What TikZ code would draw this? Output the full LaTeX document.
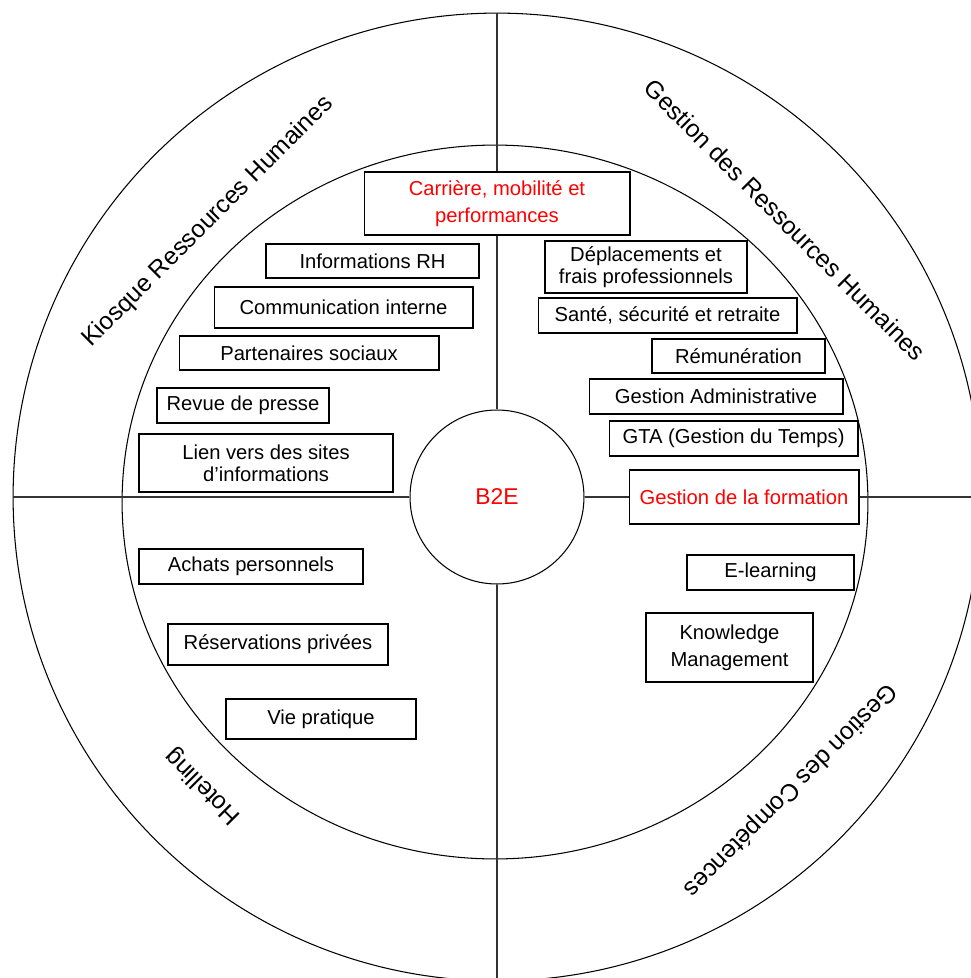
\documentclass[tikz,border=0pt]{standalone}
\usepackage{fontspec}
\setmainfont{Liberation Sans}

\begin{document}
\begin{tikzpicture}[x=0.02cm,y=-0.02cm]
    \tikzstyle{box}=[draw,line width=0.6pt,inner sep=0pt,align=center,font=\fontsize{11.5}{12.5}\selectfont]
    \tikzstyle{redbox}=[box,text=red]
    \tikzstyle{sector}=[font=\fontsize{14}{16}\selectfont]
    \tikzstyle{axis}=[line width=0.9pt,black!80]
    \useasboundingbox (0,0) rectangle (971,978);
    \clip (0,0) rectangle (971,978);
    \draw[line width=0.6pt] (497,497) circle [radius=9.68cm];
    \draw[line width=0.6pt] (495,502) ellipse [x radius=7.46cm,y radius=7.14cm];
    \node[circle,draw,line width=0.6pt,minimum size=3.48cm,inner sep=0pt,text=red,font=\fontsize{13}{15}\selectfont] (b2e) at (497,497) {B2E};
    \node[sector,rotate=45] (kiosque) at (208,222) {Kiosque Ressources Humaines};
    \node[sector,rotate=-45] (grh) at (785,220) {Gestion des Ressources Humaines};
    \node[sector,rotate=135] (hotelling) at (203,786) {Hotelling};
    \node[sector,rotate=-135] (competences) at (790,790) {Gestion des Compétences};
    \node[redbox,minimum width=5.32cm,minimum height=1.26cm] (carriere) at (497,203.5) {Carrière, mobilité et\\[2.5pt]performances};
    \node[box,minimum width=4.26cm,minimum height=0.68cm] (infos) at (372.5,261) {Informations RH};
    \node[box,minimum width=5.18cm,minimum height=0.82cm] (comm) at (343.5,307.5) {Communication interne};
    \node[box,minimum width=5.2cm,minimum height=0.68cm] (partenaires) at (309,353) {Partenaires sociaux};
    \node[box,minimum width=3.44cm,minimum height=0.7cm] (revue) at (243,405.5) {Revue de presse};
    \node[box,minimum width=5.08cm,minimum height=1.16cm] (liens) at (266,463) {Lien vers des sites\\d’informations};
    \node[box,minimum width=4.04cm,minimum height=1.04cm] (deplacements) at (646,267) {Déplacements et\\frais professionnels};
    \node[box,minimum width=5.18cm,minimum height=0.7cm] (sante) at (667.5,315.5) {Santé, sécurité et retraite};
    \node[box,minimum width=3.46cm,minimum height=0.68cm] (remuneration) at (738.5,356) {Rémunération};
    \node[box,minimum width=5.08cm,minimum height=0.7cm] (gestadmin) at (716,396.5) {Gestion Administrative};
    \node[box,minimum width=4.98cm,minimum height=0.7cm] (gta) at (733.5,438.5) {GTA (Gestion du Temps)};
    \node[redbox,minimum width=4.6cm,minimum height=1.08cm] (formation) at (744,497) {Gestion de la formation};
    \node[box,minimum width=3.34cm,minimum height=0.7cm] (elearning) at (770.5,572.5) {E-learning};
    \node[box,minimum width=3.34cm,minimum height=1.38cm] (knowledge) at (729.5,647.5) {Knowledge\\[3pt]Management};
    \node[box,minimum width=4.48cm,minimum height=0.7cm] (achats) at (251,566.5) {Achats personnels};
    \node[box,minimum width=4.4cm,minimum height=0.82cm] (reservations) at (278,644.5) {Réservations privées};
    \node[box,minimum width=3.8cm,minimum height=0.8cm] (viepratique) at (321,719) {Vie pratique};
    \coordinate (ntop) at (497,13);
    \coordinate (sbot) at (497,990);
    \coordinate (wleft) at (13,497);
    \coordinate (eright) at (990,497);
    \draw[axis] (ntop) -- (carriere.north);
    \draw[axis] (carriere.south) -- (b2e.north);
    \draw[axis] (b2e.south) -- (sbot);
    \draw[axis] (wleft) -- (b2e.west);
    \draw[axis] (b2e.east) -- (formation.west);
    \draw[axis] (formation.east) -- (eright);
  \end{tikzpicture}
\end{document}
